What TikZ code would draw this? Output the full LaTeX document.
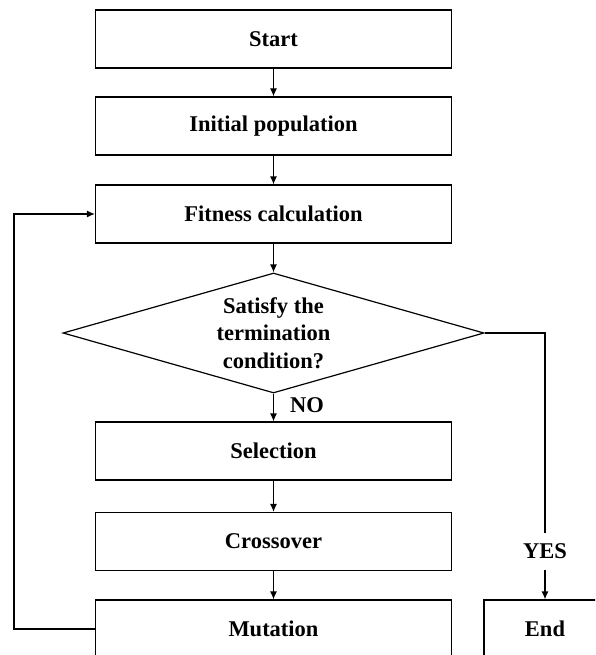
\documentclass[tikz,border=0pt]{standalone}
\usepackage{fontspec}
\setmainfont{Liberation Serif}
\usetikzlibrary{shapes.geometric,arrows.meta}
\begin{document}
\begin{tikzpicture}[x=1pt,y=-1pt,
  every node/.style={font=\bfseries\fontsize{22.5}{27.5}\selectfont},
  procbox/.style={draw, line width=1.2pt, minimum width=356pt, minimum height=58pt, inner sep=0pt},
  endbox/.style={draw, line width=1.2pt, minimum width=122pt, minimum height=58pt, inner sep=0pt},
  decision/.style={draw, diamond, aspect=3.5, line width=1.2pt, minimum width=421pt, minimum height=120pt, inner sep=0pt, align=center},
  conn/.style={line width=1.2pt},
  arr/.style={conn, -{Latex[length=8pt,width=7pt]}},
  lbl/.style={inner sep=0pt}
]
\useasboundingbox (0,0) rectangle (595,655);
\clip (0,0) rectangle (595,655);
\node[procbox] (start) at (273.5,39) {Start};
\node[procbox] (init) at (273.5,126) {Initial population};
\node[procbox] (fit) at (273.5,214) {Fitness calculation};
\node[decision] (dia) at (273.5,333) {Satisfy the\\termination\\condition?};
\node[procbox] (sel) at (273.5,451) {Selection};
\node[procbox] (cross) at (273.5,541.5) {Crossover};
\node[procbox] (mut) at (273.5,629) {Mutation};
\node[endbox] (endn) at (545,629) {End};
\node[lbl] (no) at (307,405) {NO};
\node[lbl, minimum height=37pt] (yes) at (545,551.5) {YES};
\coordinate (lft) at (14,629);
\draw[arr] (start) -- (init);
\draw[arr] (init) -- (fit);
\draw[arr] (fit) -- (dia.north);
\draw[arr] (dia.south) -- (sel);
\draw[arr] (sel) -- (cross);
\draw[arr] (cross) -- (mut);
\draw[conn] (dia.east) -| (yes.north);
\draw[arr] (yes.south) -- (endn.north);
\draw[arr] (mut.west) -- (lft) |- (fit.west);
\end{tikzpicture}
\end{document}
